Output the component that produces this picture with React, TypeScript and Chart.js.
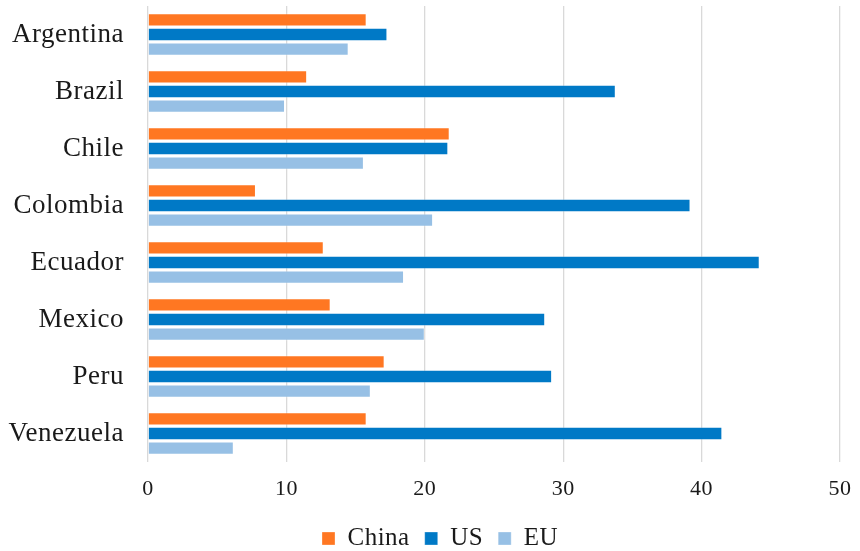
import React, { useEffect, useRef } from "react";
import { Chart, registerables } from "chart.js";

Chart.register(...registerables);

const categories = ["Argentina", "Brazil", "Chile", "Colombia", "Ecuador", "Mexico", "Peru", "Venezuela"];
const chinaValues = [15.8, 11.5, 21.8, 7.8, 12.7, 13.2, 17.1, 15.8];
const usValues = [17.3, 33.8, 21.7, 39.2, 44.2, 28.7, 29.2, 41.5];
const euValues = [14.5, 9.9, 15.6, 20.6, 18.5, 20.0, 16.1, 6.2];
const xTicks = [0, 10, 20, 30, 40, 50];

const SPACING = "0.5px";

const spacingPlugin = {
  id: "letterSpacing",
  beforeUpdate(chart: any) {
    (chart.ctx as any).letterSpacing = SPACING;
  },
  beforeLayout(chart: any) {
    (chart.ctx as any).letterSpacing = SPACING;
  },
  afterLayout(chart: any) {
    if (chart.legend) {
      chart.legend.left += 18;
      chart.legend.right += 18;
    }
  },
  beforeDraw(chart: any) {
    (chart.ctx as any).letterSpacing = SPACING;
  },
};

export default function App() {
  const ref = useRef<HTMLCanvasElement | null>(null);

  useEffect(() => {
    if (!ref.current) return;
    const font = "'Liberation Serif', 'Times New Roman', serif";
    const border = "rgba(255,255,255,0.3)";
    const chart = new Chart(ref.current, {
      type: "bar",
      data: {
        labels: categories,
        datasets: [
          { label: "China", data: chinaValues, backgroundColor: "#FF7722", borderColor: border, borderWidth: 1 },
          { label: "US", data: usValues, backgroundColor: "#0079C6", borderColor: border, borderWidth: 1 },
          { label: "EU", data: euValues, backgroundColor: "#97C0E5", borderColor: border, borderWidth: 1 },
        ],
      },
      plugins: [spacingPlugin],
      options: {
        indexAxis: "y",
        animation: false,
        responsive: false,
        maintainAspectRatio: false,
        layout: { padding: { top: 6, right: 20, left: 4, bottom: 0 } },
        datasets: { bar: { categoryPercentage: 0.77, barPercentage: 0.92 } },
        scales: {
          x: {
            min: 0,
            max: 50,
            afterBuildTicks: (axis: any) => {
              axis.ticks = xTicks.map((v) => ({ value: v }));
            },
            afterFit: (axis: any) => {
              axis.height = 49;
              axis.paddingLeft = 0;
              axis.paddingRight = 0;
            },
            grid: { color: "#d9d9d9", lineWidth: 1.3, drawTicks: false },
            border: { display: false },
            ticks: { color: "#1a1a1a", font: { family: font, size: 22 }, padding: 14 },
          },
          y: {
            afterFit: (axis: any) => {
              axis.width = 144;
              axis.paddingTop = 0;
              axis.paddingBottom = 0;
            },
            grid: { display: false, drawTicks: false },
            border: { display: false },
            ticks: { color: "#1a1a1a", font: { family: font, size: 27, lineHeight: 0.4 }, padding: 24 },
          },
        },
        plugins: {
          legend: {
            position: "bottom",
            labels: {
              color: "#1a1a1a",
              font: { family: font, size: 25 },
              boxWidth: 13,
              boxHeight: 13,
              padding: 15,
            },
          },
          tooltip: { enabled: false },
        },
      },
    } as any);
    return () => chart.destroy();
  }, []);

  return (
    <div style={{ position: "fixed", left: 0, top: 0, width: 860, height: 551, overflow: "hidden", background: "#fff" }}>
      <canvas ref={ref} width={860} height={561} style={{ width: 860, height: 561, display: "block" }} />
    </div>
  );
}
